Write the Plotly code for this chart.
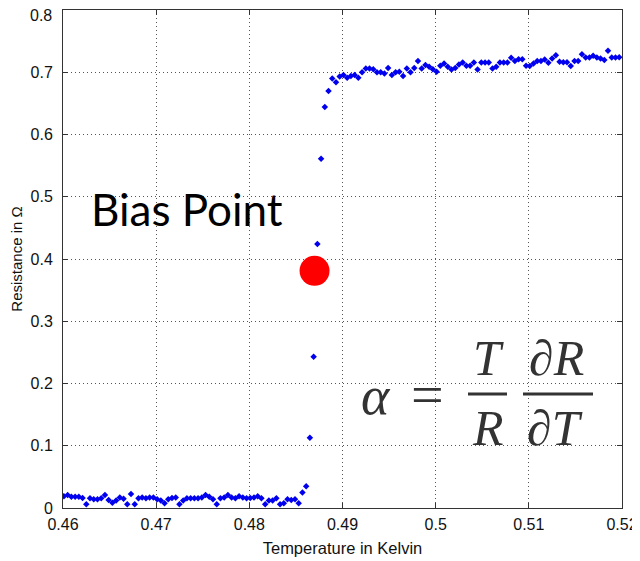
import plotly.graph_objects as go

# Temperature samples (K)
temperature = [
    0.4601, 0.4605, 0.4609, 0.4613, 0.4617, 0.4621, 0.4625, 0.4629, 0.4633, 0.4637,
    0.4641, 0.4645, 0.4649, 0.4653, 0.4657, 0.4661, 0.4665, 0.4669, 0.4673, 0.4677,
    0.4681, 0.4685, 0.4689, 0.4693, 0.4697, 0.4701, 0.4705, 0.4709, 0.4713, 0.4717,
    0.4721, 0.4725, 0.4729, 0.4733, 0.4737, 0.4741, 0.4745, 0.4749, 0.4753, 0.4757,
    0.4761, 0.4765, 0.4769, 0.4773, 0.4777, 0.4781, 0.4785, 0.4789, 0.4793, 0.4797,
    0.4801, 0.4805, 0.4809, 0.4813, 0.4817, 0.4821, 0.4825, 0.4829, 0.4833, 0.4837,
    0.4841, 0.4845, 0.4849, 0.4853, 0.4857, 0.4861, 0.4865, 0.4869, 0.4873, 0.4877,
    0.4881, 0.4885, 0.4889, 0.4893, 0.4897, 0.4901, 0.4905, 0.4909, 0.4913, 0.4917,
    0.4921, 0.4925, 0.4929, 0.4933, 0.4937, 0.4941, 0.4945, 0.4949, 0.4953, 0.4957,
    0.4961, 0.4965, 0.4969, 0.4973, 0.4977, 0.4981, 0.4985, 0.4989, 0.4993, 0.4997,
    0.5001, 0.5005, 0.5009, 0.5013, 0.5017, 0.5021, 0.5025, 0.5029, 0.5033, 0.5037,
    0.5041, 0.5045, 0.5049, 0.5053, 0.5057, 0.5061, 0.5065, 0.5069, 0.5073, 0.5077,
    0.5081, 0.5085, 0.5089, 0.5093, 0.5097, 0.5101, 0.5105, 0.5109, 0.5113, 0.5117,
    0.5121, 0.5125, 0.5129, 0.5133, 0.5137, 0.5141, 0.5145, 0.5149, 0.5153, 0.5157,
    0.5161, 0.5165, 0.5169, 0.5173, 0.5177, 0.5181, 0.5185, 0.5189, 0.5193, 0.5197,
]

# Resistance (Ohm)
resistance = [
    0.019, 0.021, 0.018, 0.018, 0.018, 0.016, 0.006, 0.0155, 0.014, 0.014,
    0.0155, 0.021, 0.013, 0.0085, 0.012, 0.017, 0.015, 0.006, 0.0225, 0.006,
    0.0155, 0.017, 0.0155, 0.017, 0.017, 0.014, 0.012, 0.0075, 0.014, 0.016,
    0.017, 0.006, 0.012, 0.0155, 0.0155, 0.0155, 0.0155, 0.017, 0.021, 0.018,
    0.014, 0.006, 0.0155, 0.017, 0.021, 0.017, 0.0155, 0.019, 0.017, 0.0155,
    0.016, 0.017, 0.019, 0.0155, 0.006, 0.012, 0.012, 0.0155, 0.006, 0.0075,
    0.014, 0.013, 0.014, 0.0075, 0.025, 0.035, 0.113, 0.243, 0.424, 0.561,
    0.644, 0.670, 0.690, 0.684, 0.693, 0.6955, 0.691, 0.694, 0.6955, 0.691,
    0.700, 0.706, 0.706, 0.705, 0.700, 0.700, 0.698, 0.707, 0.6955, 0.700,
    0.701, 0.694, 0.706, 0.700, 0.707, 0.718, 0.706, 0.7115, 0.709, 0.705,
    0.7008, 0.7104, 0.714, 0.709, 0.7045, 0.707, 0.7125, 0.7157, 0.7104, 0.7104,
    0.7157, 0.7045, 0.7157, 0.7157, 0.7157, 0.706, 0.709, 0.7157, 0.7157, 0.7157,
    0.7232, 0.718, 0.721, 0.721, 0.7104, 0.710, 0.714, 0.718, 0.718, 0.7205,
    0.7152, 0.7222, 0.7275, 0.7168, 0.716, 0.716, 0.710, 0.718, 0.718, 0.729,
    0.7237, 0.7237, 0.7264, 0.7237, 0.7222, 0.7195, 0.7344, 0.7237, 0.7237, 0.724,
]

bias_T = [0.4870]
bias_R = [0.381]

x_ticks = [0.46, 0.47, 0.48, 0.49, 0.50, 0.51, 0.52]
x_tick_labels = ["0.46", "0.47", "0.48", "0.49", "0.5", "0.51", "0.52"]
y_ticks = [0, 0.1, 0.2, 0.3, 0.4, 0.5, 0.6, 0.7, 0.8]
y_tick_labels = ["0", "0.1", "0.2", "0.3", "0.4", "0.5", "0.6", "0.7", ""]
y_top_label = "0.8"

# The page body adds an 8px offset; figure is sized to fit the window.
OFF = 8
W, H = 640 - OFF, 561 - OFF
# plot area in page pixels
PL, PR, PT, PB = 63, 622, 10, 508
L, R_, T_, B_ = PL - OFF, PR - OFF, PT - OFF, PB - OFF

def px(x):  # page pixel -> paper x
    return (x - PL) / (PR - PL)
def py(y):  # page pixel -> paper y
    return (PB - y) / (PB - PT)

fig = go.Figure()
fig.add_trace(go.Scatter(
    x=temperature, y=resistance, mode="markers",
    marker=dict(symbol="diamond", size=5, color="#0000ee", line=dict(width=0)),
    showlegend=False, hoverinfo="skip",
))
fig.add_trace(go.Scatter(
    x=bias_T, y=bias_R, mode="markers",
    marker=dict(symbol="circle", size=30, color="#ff0000", line=dict(width=0)),
    showlegend=False, hoverinfo="skip",
))

tick_font = dict(family="Liberation Sans, Arial, sans-serif", size=16, color="#111")
axis_common = dict(
    showline=True, linecolor="#333", linewidth=1, mirror="ticks",
    ticks="inside", ticklen=5, tickcolor="#333", tickwidth=1,
    showgrid=True, gridcolor="#555", griddash="1px,3px", gridwidth=1,
    zeroline=False, automargin=False,
    tickfont=tick_font,
)

fig.update_layout(
    width=W, height=H,
    margin=dict(l=L, r=W - R_, t=T_, b=H - B_, pad=0),
    paper_bgcolor="white", plot_bgcolor="white",
    xaxis=dict(
        range=[0.46, 0.52], tickvals=x_ticks, ticktext=x_tick_labels,
        title=dict(text="Temperature in Kelvin", standoff=10,
                   font=dict(family="Liberation Sans, Arial, sans-serif", size=16.5, color="#111")),
        ticklabelstandoff=2,
        **axis_common,
    ),
    yaxis=dict(
        range=[0, 0.8], tickvals=y_ticks, ticktext=y_tick_labels,
        title=dict(text="Resistance in Ω", standoff=8,
                   font=dict(family="Liberation Sans, Arial, sans-serif", size=15, color="#111")),
        ticklabelstandoff=6,
        **axis_common,
    ),
)

# top y tick label, nudged down so it stays inside the page
fig.add_annotation(
    text=y_top_label, x=0, y=1, xref="paper", yref="paper",
    xanchor="right", yanchor="middle", xshift=-9, yshift=-5,
    showarrow=False, font=tick_font,
)

serif = "Liberation Serif, Times New Roman, serif"
fcol = "#333"
annots = [
    dict(text="Bias Point", x=px(187), y=py(209), size=44, family="Lato, Calibri, sans-serif", col="#000", it=False),
    dict(text="α", x=px(376), y=py(396), size=54, family=serif, col=fcol, it=True),
    dict(text="=", x=px(427), y=py(394), size=58, family=serif, col=fcol, it=False),
    dict(text="T", x=px(488), y=py(358), size=50, family=serif, col=fcol, it=True),
    dict(text="R", x=px(488), y=py(428), size=50, family=serif, col=fcol, it=True),
    dict(text="∂R", x=px(556), y=py(358), size=50, family=serif, col=fcol, it=True),
    dict(text="∂T", x=px(555), y=py(428), size=50, family=serif, col=fcol, it=True),
]
for a in annots:
    txt = f"<i>{a['text']}</i>" if a["it"] else a["text"]
    fig.add_annotation(
        text=txt, x=a["x"], y=a["y"], xref="paper", yref="paper",
        xanchor="center", yanchor="middle", showarrow=False,
        font=dict(family=a["family"], size=a["size"], color=a["col"]),
    )

for x0, x1 in [(468, 507), (523, 593)]:
    fig.add_shape(type="line", xref="paper", yref="paper",
                  x0=px(x0), x1=px(x1), y0=py(394), y1=py(394),
                  line=dict(color=fcol, width=3))

fig.write_html("out.html")
